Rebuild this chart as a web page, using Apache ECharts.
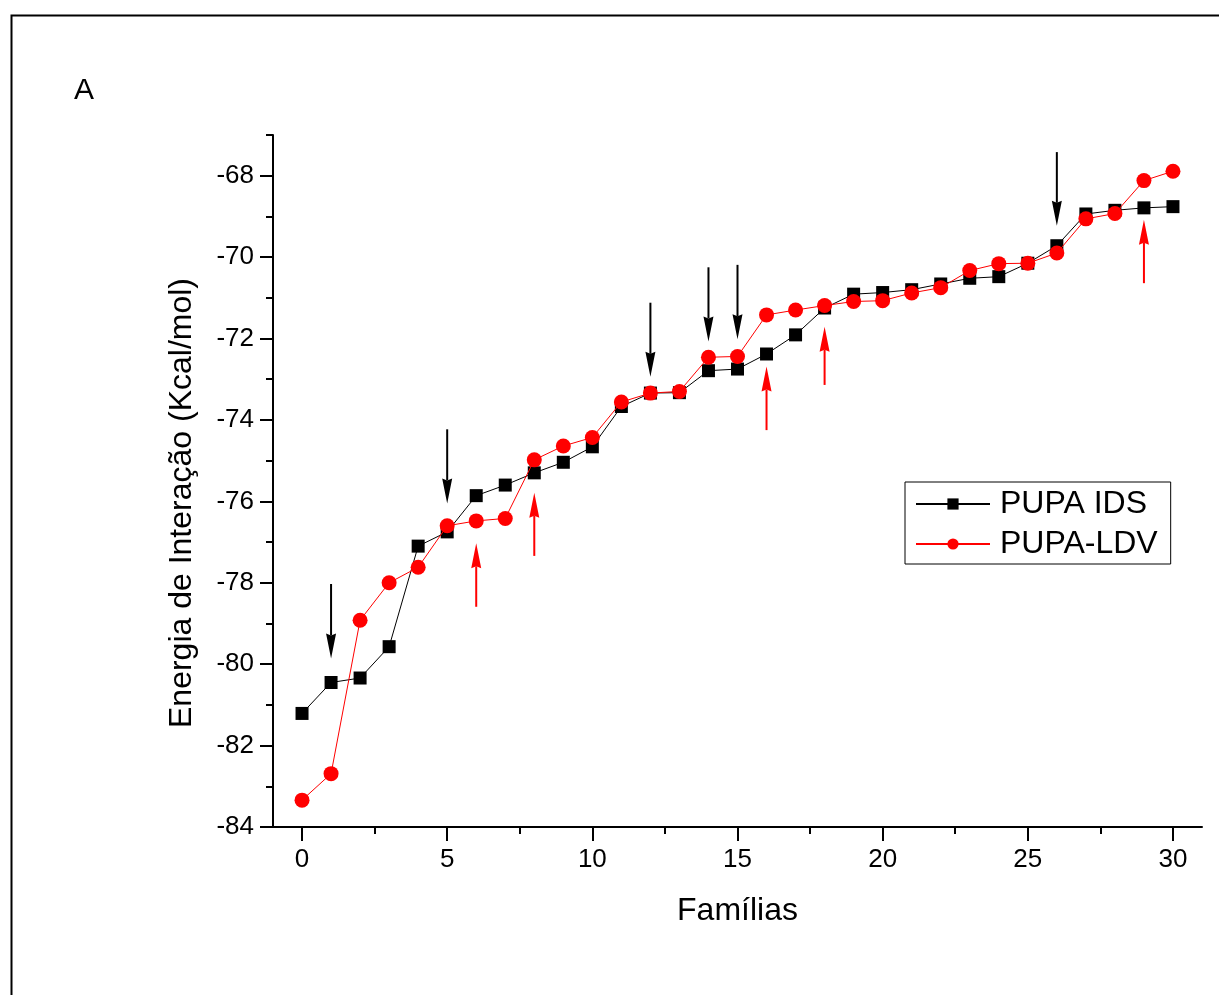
<!DOCTYPE html>
<html>
<head>
<meta charset="utf-8">
<script src="https://cdn.jsdelivr.net/npm/echarts@6/dist/echarts.min.js"></script>
<style>
  html, body { margin: 0; padding: 0; background: #fff; }
  #chart { width: 1219px; height: 995px; }
</style>
</head>
<body>
<div id="chart"></div>
<script>
// Famílias (x) and interaction energies (kcal/mol) for the two sets
const familias = [0, 1, 2, 3, 4, 5, 6, 7, 8, 9, 10, 11, 12, 13, 14, 15, 16, 17, 18, 19, 20, 21, 22, 23, 24, 25, 26, 27, 28, 29, 30];
const pupaIds = [-81.21, -80.45, -80.34, -79.57, -77.10, -76.75, -75.86, -75.60, -75.30, -75.04, -74.66,
                 -73.67, -73.34, -73.33, -72.79, -72.75, -72.38, -71.91, -71.25, -70.91, -70.87,
                 -70.80, -70.66, -70.52, -70.48, -70.15, -69.72, -68.94, -68.85, -68.79, -68.76];
const pupaLdv = [-83.34, -82.69, -78.92, -78.00, -77.62, -76.60, -76.48, -76.42, -74.98, -74.64, -74.43,
                 -73.56, -73.34, -73.30, -72.46, -72.44, -71.42, -71.30, -71.19, -71.09, -71.07,
                 -70.88, -70.75, -70.33, -70.16, -70.15, -69.90, -69.06, -68.93, -68.12, -67.89];

// Highlight arrows: family, tail energy, tip energy
const downArrowX    = [1, 5, 12, 14, 15, 26];
const downArrowTail = [-78.03, -74.23, -71.12, -70.25, -70.19, -67.42];
const downArrowTip  = [-79.86, -76.05, -72.94, -72.07, -72.02, -69.23];
const upArrowX      = [6, 8, 16, 18, 29];
const upArrowTail   = [-78.59, -77.34, -74.25, -73.14, -70.64];
const upArrowTip    = [-77.03, -75.79, -72.69, -71.71, -69.08];

// Axis ticks
const xMajorTicks = [0, 5, 10, 15, 20, 25, 30];
const xMinorTicks = [2.5, 7.5, 12.5, 17.5, 22.5, 27.5];
const yMajorTicks = [-84, -82, -80, -78, -76, -74, -72, -70, -68];
const yMinorTicks = [-83, -81, -79, -77, -75, -73, -71, -69, -67];

const FONT = "'Liberation Sans', Arial, sans-serif";

const idsData = familias.map((f, i) => [f, pupaIds[i]]);
const ldvData = familias.map((f, i) => [f, pupaLdv[i]]);
const downData = downArrowX.map((f, i) => [f, downArrowTail[i], downArrowTip[i]]);
const upData = upArrowX.map((f, i) => [f, upArrowTail[i], upArrowTip[i]]);

// Vertical arrow from tail to tip with a filled head
function arrowRenderer(color) {
  return function (params, api) {
    const tail = api.coord([api.value(0), api.value(1)]);
    const tip = api.coord([api.value(0), api.value(2)]);
    const dir = tip[1] > tail[1] ? 1 : -1;
    const headLen = 25, half = 5;
    const base = tip[1] - dir * headLen;
    return {
      type: 'group',
      children: [
        { type: 'line', shape: { x1: tail[0], y1: tail[1], x2: tip[0], y2: base + dir * 2 },
          style: { stroke: color, lineWidth: 2 } },
        { type: 'polygon', shape: { points: [[tip[0], tip[1]], [tip[0] - half, base], [tip[0], base + dir * 2], [tip[0] + half, base]] },
          style: { fill: color } }
      ]
    };
  };
}

const axisLineStyle = { onZero: false, lineStyle: { color: '#000', width: 2 } };

const chart = echarts.init(document.getElementById('chart'), null, { renderer: 'canvas' });
chart.setOption({
  backgroundColor: '#fff',
  animation: false,
  textStyle: { fontFamily: FONT },
  grid: { left: 273, right: 17, top: 135, bottom: 168, containLabel: false },
  graphic: [
    { type: 'rect', left: 9, top: 13, shape: { width: 1400, height: 1200 },
      style: { fill: 'none', stroke: '#000', lineWidth: 2 }, silent: true, z: -1 },
    { type: 'text', left: 74, top: 76, style: { text: 'A', font: '30px ' + FONT, fill: '#000' } },
    { type: 'text', x: 182, y: 503, rotation: Math.PI / 2,
      style: { text: 'Energia de Interação (Kcal/mol)', font: '32px ' + FONT, fill: '#000', align: 'center', verticalAlign: 'middle' } }
  ],
  legend: {
    orient: 'vertical',
    left: 905, top: 482,
    padding: [6, 13, 4, 10],
    itemWidth: 74, itemHeight: 14, itemGap: 8,
    borderColor: '#000', borderWidth: 1,
    data: ['PUPA IDS', 'PUPA-LDV'],
    textStyle: { fontSize: 32, color: '#000', fontFamily: FONT, padding: [0, 0, 0, 5] }
  },
  xAxis: [
    {
      type: 'value', min: -1, max: 31, position: 'bottom',
      name: 'Famílias', nameLocation: 'middle', nameGap: 68,
      nameTextStyle: { fontSize: 32, color: '#000', fontFamily: FONT },
      axisLine: axisLineStyle,
      axisTick: { show: true, length: 14, lineStyle: { color: '#000', width: 2 }, customValues: xMajorTicks },
      axisLabel: { fontSize: 26, color: '#000', margin: 20, fontFamily: FONT, customValues: xMajorTicks },
      splitLine: { show: false }
    },
    {
      type: 'value', min: -1, max: 31, position: 'bottom',
      axisLine: { show: false, onZero: false },
      axisTick: { show: true, length: 7, lineStyle: { color: '#000', width: 2 }, customValues: xMinorTicks },
      axisLabel: { show: false },
      splitLine: { show: false }
    }
  ],
  yAxis: [
    {
      type: 'value', min: -84, max: -67, position: 'left',
      axisLine: axisLineStyle,
      axisTick: { show: true, length: 13, lineStyle: { color: '#000', width: 2 }, customValues: yMajorTicks },
      axisLabel: { fontSize: 26, color: '#000', margin: 19, fontFamily: FONT, customValues: yMajorTicks },
      splitLine: { show: false }
    },
    {
      type: 'value', min: -84, max: -67, position: 'left',
      axisLine: { show: false, onZero: false },
      axisTick: { show: true, length: 7, lineStyle: { color: '#000', width: 2 }, customValues: yMinorTicks },
      axisLabel: { show: false },
      splitLine: { show: false }
    }
  ],
  series: [
    {
      name: 'PUPA IDS', type: 'line', data: idsData,
      xAxisIndex: 0, yAxisIndex: 0,
      symbol: 'rect', symbolSize: 13,
      itemStyle: { color: '#000' },
      lineStyle: { color: '#000', width: 1 },
      z: 2
    },
    {
      name: 'PUPA-LDV', type: 'line', data: ldvData,
      xAxisIndex: 0, yAxisIndex: 0,
      symbol: 'circle', symbolSize: 15,
      itemStyle: { color: '#ff0000' },
      lineStyle: { color: '#ff0000', width: 1 },
      z: 3
    },
    {
      name: 'down', type: 'custom', data: downData,
      xAxisIndex: 0, yAxisIndex: 0,
      renderItem: arrowRenderer('#000'), silent: true, z: 4
    },
    {
      name: 'up', type: 'custom', data: upData,
      xAxisIndex: 0, yAxisIndex: 0,
      renderItem: arrowRenderer('#ff0000'), silent: true, z: 4
    }
  ]
});
</script>
</body>
</html>
